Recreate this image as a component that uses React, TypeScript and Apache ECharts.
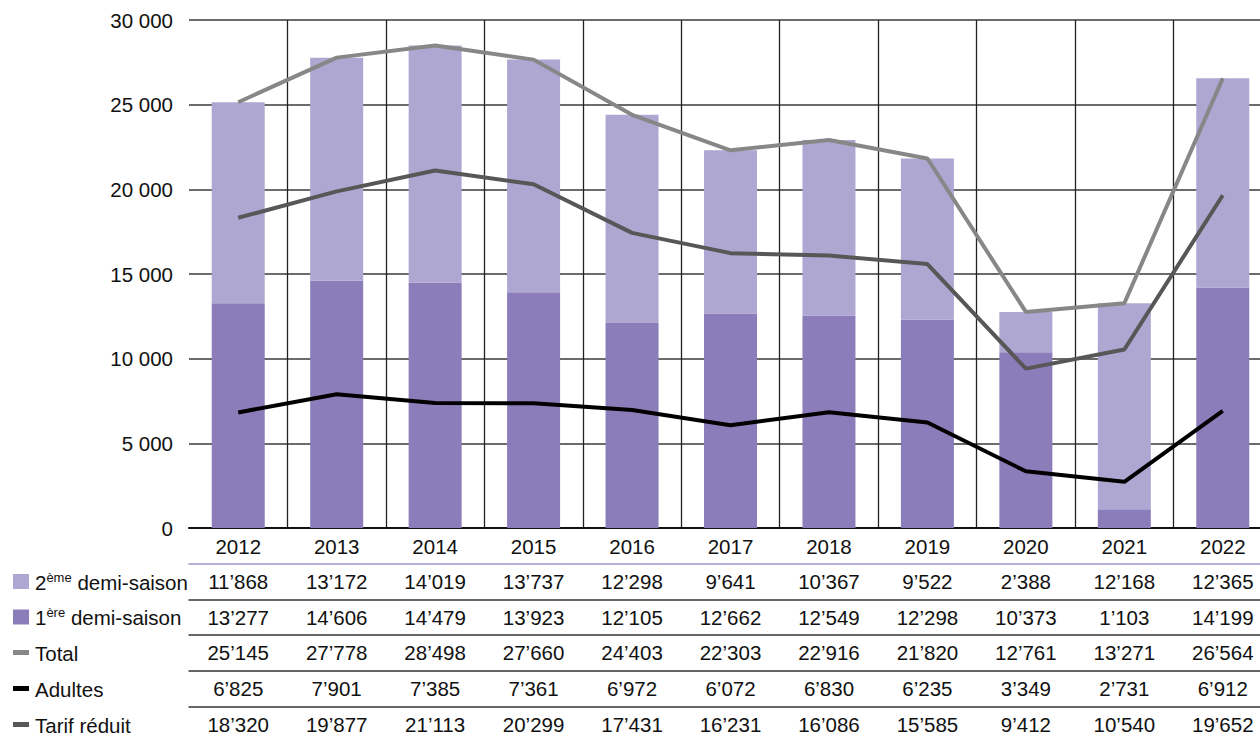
import React, { useEffect, useRef } from 'react';
import * as echarts from 'echarts';

const years = ['2012', '2013', '2014', '2015', '2016', '2017', '2018', '2019', '2020', '2021', '2022'];
const secondHalf = [11868, 13172, 14019, 13737, 12298, 9641, 10367, 9522, 2388, 12168, 12365];
const firstHalf = [13277, 14606, 14479, 13923, 12105, 12662, 12549, 12298, 10373, 1103, 14199];
const total = [25145, 27778, 28498, 27660, 24403, 22303, 22916, 21820, 12761, 13271, 26564];
const adults = [6825, 7901, 7385, 7361, 6972, 6072, 6830, 6235, 3349, 2731, 6912];
const reduced = [18320, 19877, 21113, 20299, 17431, 16231, 16086, 15585, 9412, 10540, 19652];
const yMax = 30000;
const yStep = 5000;

const FONT = 'Liberation Sans, Arial, sans-serif';
const C_LIGHT = '#ADA7D1';
const C_DARK = '#8A7DB9';
const C_TOTAL = '#878787';
const C_ADULT = '#000000';
const C_REDUCED = '#575757';

const fmtTable = (v: number) => String(v).replace(/\B(?=(\d{3})+(?!\d))/g, '\u2019');
const fmtAxis = (v: number) => String(v).replace(/\B(?=(\d{3})+(?!\d))/g, ' ');

const rows = [
  { values: secondHalf, offset: 36, lineColor: '#9D96C8' },
  { values: firstHalf, offset: 71.5, lineColor: '#333333' },
  { values: total, offset: 107, lineColor: '#333333' },
  { values: adults, offset: 143, lineColor: '#333333' },
  { values: reduced, offset: 179, lineColor: '#333333' },
];

const legendRows = [
  { label: '{n|2}{s|ème}{n| demi-saison}', kind: 'box', color: C_LIGHT },
  { label: '{n|1}{s|ère}{n| demi-saison}', kind: 'box', color: C_DARK },
  { label: '{n|Total}', kind: 'line', color: C_TOTAL },
  { label: '{n|Adultes}', kind: 'line', color: C_ADULT },
  { label: '{n|Tarif réduit}', kind: 'line', color: C_REDUCED },
];

const CHART_W = 1272;
const CHART_H = 738;

export default function App() {
  const ref = useRef<HTMLDivElement>(null);
  useEffect(() => {
    document.body.style.margin = '0';
    const chart = echarts.init(ref.current!, undefined, { renderer: 'svg' });
    const axisBottom = 528;
    const rowCenters = rows.map((r) => axisBottom + r.offset + 17.5);

    const graphic: any[] = [];
    legendRows.forEach((lr, i) => {
      const cy = rowCenters[i];
      if (lr.kind === 'box') {
        graphic.push({ type: 'rect', shape: { x: 13, y: cy - 7.5, width: 16, height: 15 }, style: { fill: lr.color } });
      } else {
        graphic.push({ type: 'rect', shape: { x: 13, y: cy - 2.5, width: 16, height: 5 }, style: { fill: lr.color } });
      }
      graphic.push({
        type: 'text',
        x: 35,
        y: cy,
        style: {
          text: lr.label,
          verticalAlign: 'middle',
          align: 'left',
          rich: {
            n: { fontSize: 20.5, fontFamily: FONT, fill: '#111', lineHeight: 22, verticalAlign: 'bottom' },
            s: { fontSize: 13, fontFamily: FONT, fill: '#111', verticalAlign: 'top', lineHeight: 13 },
          },
        },
      });
    });

    const extraAxes = rows.map((r) => ({
      type: 'category',
      gridIndex: 0,
      position: 'bottom',
      offset: r.offset,
      data: r.values.map(fmtTable),
      axisLine: { show: true, onZero: false, lineStyle: { color: r.lineColor, width: 1.5 } },
      axisTick: { show: false },
      axisLabel: { interval: 0, margin: 7, fontSize: 20.5, fontFamily: FONT, color: '#111' },
      splitLine: { show: false },
    }));

    chart.setOption({
      animation: false,
      backgroundColor: '#ffffff',
      grid: { left: 189, right: 0, top: 20, bottom: CHART_H - axisBottom, containLabel: false },
      xAxis: [
        {
          type: 'category',
          data: years,
          position: 'bottom',
          axisLine: { show: true, lineStyle: { color: '#111', width: 2 } },
          axisTick: { show: false },
          axisLabel: { interval: 0, margin: 8, fontSize: 20.5, fontFamily: FONT, color: '#111' },
          splitLine: {
            show: true,
            interval: (index: number) => index !== 0,
            lineStyle: { color: '#222', width: 1.3 },
          },
        },
        ...extraAxes,
      ],
      yAxis: {
        type: 'value',
        min: 0,
        max: yMax,
        interval: yStep,
        axisLine: { show: false },
        axisTick: { show: false },
        axisLabel: { margin: 16, fontSize: 20.5, fontFamily: FONT, color: '#111', formatter: (v: number) => fmtAxis(v) },
        splitLine: { show: true, lineStyle: { color: '#3a3a3a', width: 1.5 } },
      },
      series: [
        { name: '1ère demi-saison', type: 'bar', stack: 'a', data: firstHalf, barWidth: 53, itemStyle: { color: C_DARK }, z: 2 },
        { name: '2ème demi-saison', type: 'bar', stack: 'a', data: secondHalf, barWidth: 53, itemStyle: { color: C_LIGHT }, z: 2 },
        { name: 'Total', type: 'line', data: total, symbol: 'none', lineStyle: { color: C_TOTAL, width: 4 }, z: 3 },
        { name: 'Tarif réduit', type: 'line', data: reduced, symbol: 'none', lineStyle: { color: C_REDUCED, width: 4 }, z: 3 },
        { name: 'Adultes', type: 'line', data: adults, symbol: 'none', lineStyle: { color: C_ADULT, width: 4 }, z: 3 },
      ],
      graphic,
    });
    return () => chart.dispose();
  }, []);
  return (
    <div style={{ width: 1260, height: CHART_H, overflow: 'hidden', position: 'relative' }}>
      <div ref={ref} style={{ width: CHART_W, height: CHART_H }} />
    </div>
  );
}
